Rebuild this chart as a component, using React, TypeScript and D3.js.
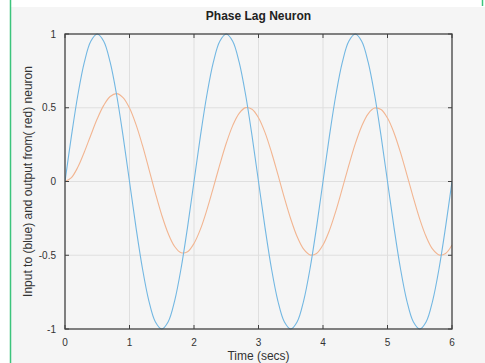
import React from "react";
import * as d3 from "d3";

// time samples (secs)
const times = [
  0, 0.1, 0.2, 0.3, 0.4, 0.5, 0.6, 0.7, 0.8, 0.9, 1, 1.1, 1.2, 1.3, 1.4, 1.5, 1.6, 1.7, 1.8, 1.9,
  2, 2.1, 2.2, 2.3, 2.4, 2.5, 2.6, 2.7, 2.8, 2.9, 3, 3.1, 3.2, 3.3, 3.4, 3.5, 3.6, 3.7, 3.8, 3.9,
  4, 4.1, 4.2, 4.3, 4.4, 4.5, 4.6, 4.7, 4.8, 4.9, 5, 5.1, 5.2, 5.3, 5.4, 5.5, 5.6, 5.7, 5.8, 5.9, 6,
];

// input (blue)
const inputValues = [
  0, 0.309, 0.588, 0.809, 0.951, 1, 0.951, 0.809, 0.588, 0.309, 0, -0.309, -0.588, -0.809, -0.951, -1, -0.951, -0.809, -0.588, -0.309,
  0, 0.309, 0.588, 0.809, 0.951, 1, 0.951, 0.809, 0.588, 0.309, 0, -0.309, -0.588, -0.809, -0.951, -1, -0.951, -0.809, -0.588, -0.309,
  0, 0.309, 0.588, 0.809, 0.951, 1, 0.951, 0.809, 0.588, 0.309, 0, -0.309, -0.588, -0.809, -0.951, -1, -0.951, -0.809, -0.588, -0.309, 0,
];

// output (red)
const outputValues = [
  0, 0.027, 0.098, 0.2, 0.314, 0.425, 0.516, 0.576, 0.596, 0.569, 0.498, 0.387, 0.246, 0.086, -0.077, -0.228, -0.353, -0.441, -0.483, -0.476,
  -0.42, -0.323, -0.192, -0.041, 0.114, 0.259, 0.379, 0.462, 0.501, 0.49, 0.432, 0.333, 0.2, 0.048, -0.109, -0.254, -0.375, -0.459, -0.498, -0.488,
  -0.43, -0.331, -0.199, -0.047, 0.109, 0.255, 0.375, 0.459, 0.498, 0.488, 0.43, 0.331, 0.199, 0.047, -0.109, -0.255, -0.375, -0.459, -0.498, -0.488, -0.43,
];

const xTicks = [0, 1, 2, 3, 4, 5, 6];
const yTicks = [-1, -0.5, 0, 0.5, 1];

const W = 485;
const H = 363;
const left = 65;
const right = 452;
const top = 34;
const bottom = 329;
const font = "'Liberation Sans', Arial, Helvetica, sans-serif";

const App = () => {
  const x = d3.scaleLinear().domain([0, 6]).range([left, right]);
  const y = d3.scaleLinear().domain([-1, 1]).range([bottom, top]);

  const line = d3
    .line<number>()
    .x((d, i) => x(times[i]))
    .y((d) => y(d))
    .curve(d3.curveCatmullRom);

  const tickLen = 4;

  return (
    <div style={{ position: "fixed", left: 0, top: 0 }}>
      <svg width={W} height={H} style={{ display: "block" }}>
        <rect x={0} y={0} width={W} height={H} fill="#ffffff" />
        <rect x={11} y={7} width={W - 11} height={H - 7} fill="#f5f5f5" />
        <line x1={10.5} y1={0} x2={10.5} y2={H} stroke="#3cc47c" strokeWidth={1.5} />
        <line x1={482.5} y1={0} x2={482.5} y2={6} stroke="#3cc47c" strokeWidth={1.5} />

        {/* grid */}
        {xTicks.slice(1, -1).map((t) => (
          <line key={"gx" + t} x1={x(t)} x2={x(t)} y1={top} y2={bottom} stroke="#dfdfdf" strokeWidth={1} />
        ))}
        {yTicks.slice(1, -1).map((t) => (
          <line key={"gy" + t} x1={left} x2={right} y1={y(t)} y2={y(t)} stroke="#dfdfdf" strokeWidth={1} />
        ))}

        <clipPath id="plotClip">
          <rect x={left} y={top - 2} width={right - left} height={bottom - top + 4} />
        </clipPath>
        <g clipPath="url(#plotClip)">
          <path d={line(outputValues) || ""} fill="none" stroke="#f2b591" strokeWidth={1.1} />
          <path d={line(inputValues) || ""} fill="none" stroke="#72b7e2" strokeWidth={1.1} />
        </g>

        {/* box */}
        <rect x={left} y={top} width={right - left} height={bottom - top} fill="none" stroke="#404040" strokeWidth={1.3} />

        {/* ticks */}
        {xTicks.map((t) => (
          <g key={"tx" + t}>
            <line x1={x(t)} x2={x(t)} y1={bottom} y2={bottom - tickLen} stroke="#404040" />
            <line x1={x(t)} x2={x(t)} y1={top} y2={top + tickLen} stroke="#404040" />
            <text x={x(t)} y={bottom + 17} textAnchor="middle" fontFamily={font} fontSize={10} fill="#333">
              {t}
            </text>
          </g>
        ))}
        {yTicks.map((t) => (
          <g key={"ty" + t}>
            <line x1={left} x2={left + tickLen} y1={y(t)} y2={y(t)} stroke="#404040" />
            <line x1={right} x2={right - tickLen} y1={y(t)} y2={y(t)} stroke="#404040" />
            <text x={left - 9} y={y(t) + 3.5} textAnchor="end" fontFamily={font} fontSize={10} fill="#333">
              {t}
            </text>
          </g>
        ))}

        <text x={(left + right) / 2} y={19.5} textAnchor="middle" fontFamily={font} fontSize={12} fontWeight="bold" fill="#222">
          Phase Lag Neuron
        </text>
        <text x={(left + right) / 2} y={360} textAnchor="middle" fontFamily={font} fontSize={12} fill="#333">
          Time (secs)
        </text>
        <text
          transform={`translate(32,${(top + bottom) / 2}) rotate(-90)`}
          textAnchor="middle"
          fontFamily={font}
          fontSize={12}
          fill="#333"
        >
          Input to (blue) and output from( red) neuron
        </text>
      </svg>
    </div>
  );
};

export default App;
